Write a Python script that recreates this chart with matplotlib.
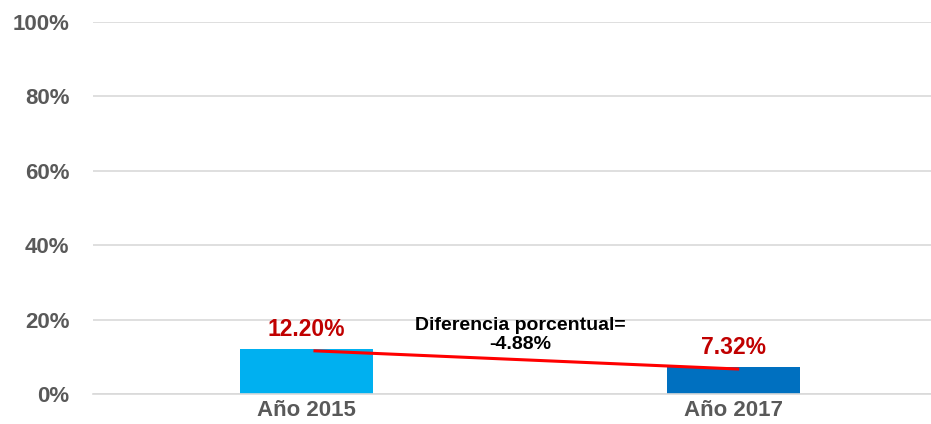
import matplotlib
matplotlib.use('Agg')
import matplotlib.pyplot as plt

# data
categories = ['Año 2015', 'Año 2017']
values = [12.20, 7.32]
value_labels = ['12.20%', '7.32%']
diff_label = 'Diferencia porcentual=\n-4.88%'
y_ticks = [0, 20, 40, 60, 80, 100]

colors = ['#00B0F0', '#0070C0']

plt.rcParams['font.family'] = ['Liberation Sans', 'DejaVu Sans']

fig = plt.figure(figsize=(9.31, 4.24), dpi=100)
ax = fig.add_axes([93 / 931, 30 / 424, 838 / 931, 372 / 424])

x = list(range(len(categories)))
ax.bar(x, values, width=0.31, color=colors, zorder=2)

# value labels above bars
for xi, v, lab in zip(x, values, value_labels):
    ax.text(xi, v + 2.0, lab, ha='center', va='bottom', color='#C00000',
            fontsize=16.5, fontweight='bold')

# trend line between the two bars
ax.plot([x[0] + 0.02, x[1] + 0.01], [values[0] - 0.6, values[1] - 0.6],
        color='#FF0000', linewidth=2.2, zorder=3)

ax.text(0.5, 20.6, diff_label, ha='center', va='top', color='black',
        fontsize=14, fontweight='bold', linespacing=1.15)

ax.set_xlim(-0.5, 1.463)
ax.set_ylim(0, 100)
ax.set_yticks(y_ticks)
ax.set_yticklabels([f'{t}%' for t in y_ticks])
ax.set_xticks(x)
ax.set_xticklabels(categories)

ax.grid(axis='y', color='#D9D9D9', linewidth=1.2, zorder=0)
ax.set_axisbelow(True)
for s in ['top', 'right', 'left']:
    ax.spines[s].set_visible(False)
ax.spines['bottom'].set_color('#D9D9D9')
ax.spines['bottom'].set_linewidth(1.2)
ax.tick_params(axis='both', length=0, colors='#595959')
ax.tick_params(axis='y', pad=17, labelsize=16)
ax.tick_params(axis='x', pad=4, labelsize=16)
for lbl in ax.get_xticklabels() + ax.get_yticklabels():
    lbl.set_fontweight('bold')

fig.savefig('out.png', dpi=100)
